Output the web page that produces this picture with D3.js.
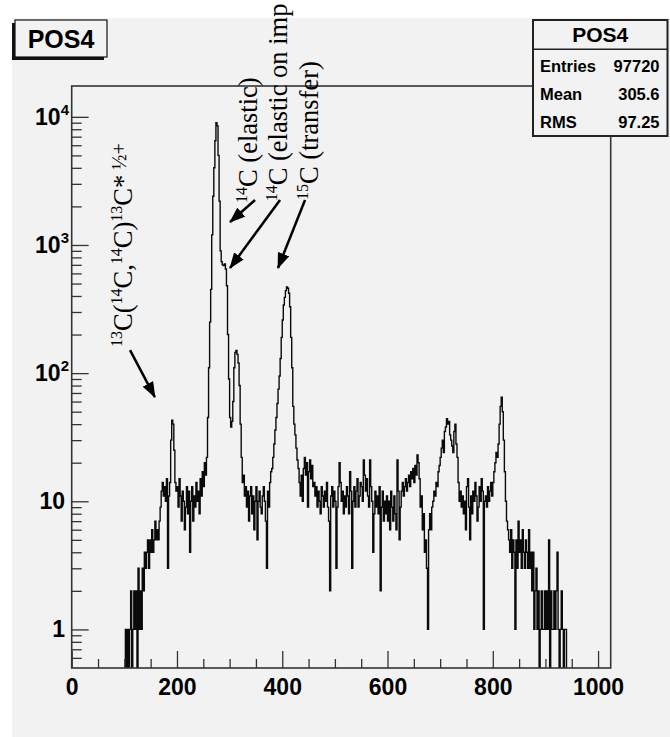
<!DOCTYPE html>
<html>
<head>
<meta charset="utf-8">
<script src="https://cdn.jsdelivr.net/npm/d3@7"></script>
<style>
  body { margin: 0; background: #ffffff; }
  svg { display: block; }
</style>
</head>
<body>
<div id="chartPos4"></div>
<script>
// ----------------------------------------------------------------------------------------------------
// DATA - POS4 histogram (bins of width 2, starting at channel 100, all other bins empty)
// ----------------------------------------------------------------------------------------------------
var histName = "POS4";
var binLow = 100;
var binWidth = 2;
var counts = [
    0, 1, 0, 1, 0, 1, 2, 0, 1, 2,                       // 100
    1, 2, 0, 3, 1, 2, 1, 3, 2, 4,                       // 120
    3, 4, 5, 3, 5, 4, 6, 4, 5, 7,                       // 140
    5, 6, 5, 7, 9, 12, 14, 11, 13, 10,                  // 160
    15, 3, 11, 14, 30, 43, 40, 25, 14, 12,              // 180
    13, 9, 15, 11, 7, 12, 10, 6, 9, 13,                 // 200
    8, 12, 4, 10, 13, 7, 11, 9, 14, 10,                 // 220
    12, 8, 15, 11, 17, 13, 20, 16, 22, 45,              // 240
    110, 250, 450, 1200, 2400, 4000, 6500, 9000, 8500, 5000,   // 260
    2200, 900, 740, 700, 690, 710, 650, 480, 200, 90,   // 280
    45, 38, 42, 60, 110, 145, 150, 140, 120, 80,        // 300
    40, 22, 14, 16, 11, 13, 9, 12, 7, 11,               // 320
    13, 8, 11, 6, 10, 13, 5, 10, 12, 9,                 // 340
    8, 11, 13, 10, 7, 3, 12, 9, 14, 17,                 // 360
    18, 22, 28, 36, 45, 58, 75, 95, 130, 190,           // 380
    260, 340, 390, 440, 470, 460, 420, 330, 190, 110,   // 400
    55, 40, 33, 26, 21, 18, 14, 11, 16, 10,             // 420
    18, 22, 16, 20, 9, 17, 21, 15, 19, 13,              // 440
    14, 11, 13, 9, 12, 10, 8, 13, 11, 9,                // 460
    12, 10, 14, 9, 7, 2, 11, 13, 9, 12,                 // 480
    10, 3, 9, 13, 20, 14, 10, 12, 8, 11,                // 500
    9, 13, 11, 8, 17, 12, 3, 10, 13, 9,                 // 520
    12, 15, 9, 11, 14, 13, 10, 21, 16, 12,              // 540
    15, 11, 9, 21, 13, 10, 4, 8, 12, 9,                 // 560
    11, 8, 13, 2, 9, 12, 7, 10, 8, 11,                  // 580
    7, 10, 6, 12, 9, 7, 11, 8, 6, 21,                   // 600
    12, 5, 9, 12, 14, 11, 13, 15, 12, 14,               // 620
    16, 13, 17, 15, 18, 14, 19, 16, 23, 20,             // 640
    15, 9, 11, 6, 8, 4, 5, 3, 1, 6,                     // 660
    8, 6, 9, 10, 12, 11, 14, 13, 17, 19,                // 680
    22, 26, 30, 24, 35, 38, 44, 40, 42, 33,             // 700
    30, 27, 24, 35, 40, 28, 22, 14, 10, 12,             // 720
    9, 11, 8, 10, 6, 13, 15, 9, 5, 11,                  // 740
    8, 12, 10, 14, 11, 7, 9, 13, 10, 15,                // 760
    12, 1, 10, 11, 9, 13, 10, 12, 14, 11,               // 780
    14, 17, 20, 24, 22, 28, 40, 55, 65, 50,             // 800
    30, 17, 10, 7, 6, 5, 4, 6, 3, 5,                    // 820
    4, 1, 5, 3, 7, 4, 5, 3, 6, 4,                       // 840
    3, 5, 4, 3, 6, 3, 4, 2, 4, 1,                       // 860
    2, 3, 1, 2, 0, 1, 2, 1, 1, 2,                       // 880
    1, 2, 1, 5, 0, 2, 1, 1, 2, 1,                       // 900
    2, 4, 1, 0, 1, 2, 1, 0, 1, 1                        // 920
];

var xDomain = [0, 1024];
var yDomain = [0.5, 17400];
var xTicksMajor = [0, 200, 400, 600, 800, 1000];
var yTicksMajor = [1, 10, 100, 1000, 10000];
var yLabelBase = ["1", "10", "10", "10", "10"];
var yLabelExp = ["", "", "2", "3", "4"];

var statNames = ["Entries", "Mean", "RMS"];
var statValues = ["97720", "305.6", "97.25"];

// annotation text pieces: [text, kind]  kind 0 = normal, 1 = superscript, 2 = raised small
var annotationTexts = [
    [["13", 1], ["C(", 0], ["14", 1], ["C,", 0], ["14", 1], ["C)", 0], ["13", 1], ["C*\u2009", 0], ["\u00bd+", 2]],
    [["14", 1], ["C (elastic)", 0]],
    [["14", 1], ["C (elastic on imp", 0]],
    [["15", 1], ["C (transfer)", 0]]
];
// anchor of each annotation and its arrow, in data units (channel, counts)
var annotationAnchor = [[114.6, 160], [352, 2127], [409, 2190], [468, 2244]];
var arrowFrom = [[110.8, 151], [348.3, 2244], [395.8, 2244], [443.3, 2244]];
var arrowTo = [[158, 65], [300.8, 1511], [300.8, 661], [391.9, 661]];

// ----------------------------------------------------------------------------------------------------
// CONTROLS - CHART POS4
// ----------------------------------------------------------------------------------------------------
function chartPos4_Draw(ele) {
    ele = "#" + ele;
    d3.select(ele).select("svg").remove();

    // Dimensions
    var w = 670, h = 737;
    var left = 71.7, right = 610.7, top = 86, bottom = 668;
    var axisColor = "#333333";
    var labelFont = "'Liberation Sans', Arial, Helvetica, sans-serif";
    var serifFont = "'Liberation Serif', 'Times New Roman', serif";

    var svg = d3.select(ele)
        .append("svg")
        .attr("width", w)
        .attr("height", h);

    // Canvas
    svg.append("rect")
        .attr("x", 12).attr("y", 18)
        .attr("width", w - 12).attr("height", h - 18)
        .attr("fill", "#f2f2f2");

    // Scales
    var x = d3.scaleLinear().domain(xDomain).range([left, right]);
    var y = d3.scaleLog().domain(yDomain).range([bottom, top]);

    svg.append("clipPath").attr("id", "frameClip")
        .append("rect")
        .attr("x", left).attr("y", top)
        .attr("width", right - left).attr("height", bottom - top);

    // Histogram (step outline)
    var floor = yDomain[0] * 0.5;
    var pts = [[binLow, floor]];
    counts.forEach(function(c, i) { pts.push([binLow + i * binWidth, c]); });
    pts.push([binLow + counts.length * binWidth, counts[counts.length - 1]]);
    pts.push([binLow + counts.length * binWidth, floor]);

    var line = d3.line()
        .x(function(d) { return x(d[0]); })
        .y(function(d) { return y(Math.max(d[1], floor)); })
        .curve(d3.curveStepAfter);

    svg.append("path")
        .datum(pts)
        .attr("clip-path", "url(#frameClip)")
        .attr("d", line)
        .attr("fill", "none")
        .attr("stroke", "#0a0a0a")
        .attr("stroke-width", 1.4);

    // X axis
    var xMinor = x.ticks(20).filter(function(t) { return xTicksMajor.indexOf(t) < 0; });
    var gxMinor = svg.append("g")
        .attr("transform", "translate(0," + bottom + ")")
        .call(d3.axisBottom(x).tickValues(xMinor).tickSizeInner(-9).tickSizeOuter(0).tickFormat(""));
    var gx = svg.append("g")
        .attr("transform", "translate(0," + bottom + ")")
        .call(d3.axisBottom(x).tickValues(xTicksMajor).tickSizeInner(-17).tickSizeOuter(0).tickFormat(d3.format("d")));
    gx.selectAll("text")
        .attr("y", 27).attr("dy", null)
        .attr("font-family", labelFont).attr("font-weight", "bold")
        .attr("font-size", "23px").attr("fill", "#000");

    // Y axis
    var yMinor = y.ticks().filter(function(t) { return yTicksMajor.indexOf(t) < 0 && t > yDomain[0]; });
    var gyMinor = svg.append("g")
        .attr("transform", "translate(" + left + ",0)")
        .call(d3.axisLeft(y).tickValues(yMinor).tickSizeInner(-10).tickSizeOuter(0).tickFormat(""));
    var gy = svg.append("g")
        .attr("transform", "translate(" + left + ",0)")
        .call(d3.axisLeft(y).tickValues(yTicksMajor).tickSizeInner(-17).tickSizeOuter(0).tickFormat(""));

    [gxMinor, gx, gyMinor, gy].forEach(function(g) {
        g.select(".domain").remove();
        g.selectAll("line").attr("stroke", axisColor).attr("stroke-width", 1.3);
    });

    var yLabels = svg.selectAll(".ylabel")
        .data(yTicksMajor)
        .enter()
        .append("text")
        .attr("class", "ylabel")
        .attr("x", function(d, i) { return yLabelExp[i] ? 69 : 65; })
        .attr("y", function(d) { return y(d) + 8; })
        .attr("text-anchor", "end")
        .attr("font-family", labelFont)
        .attr("font-weight", "bold")
        .attr("font-size", "23px")
        .attr("fill", "#000");
    yLabels.append("tspan").text(function(d, i) { return yLabelBase[i]; });
    yLabels.append("tspan")
        .attr("font-size", "15px")
        .attr("dy", -10)
        .text(function(d, i) { return yLabelExp[i]; });

    // Frame
    svg.append("rect")
        .attr("x", left).attr("y", top)
        .attr("width", right - left).attr("height", bottom - top)
        .attr("fill", "none")
        .attr("stroke", axisColor)
        .attr("stroke-width", 1.6);

    // Title box
    svg.append("rect").attr("x", 12).attr("y", 23).attr("width", 92).attr("height", 37).attr("fill", "#111");
    svg.append("rect").attr("x", 15).attr("y", 20).attr("width", 92).attr("height", 37)
        .attr("fill", "#f2f2f2").attr("stroke", "#111").attr("stroke-width", 1.2);
    svg.append("text")
        .attr("x", 61).attr("y", 48)
        .attr("text-anchor", "middle")
        .attr("font-family", labelFont).attr("font-weight", "bold")
        .attr("font-size", "25px").attr("fill", "#000")
        .text(histName);

    // Stats box
    var sx = 533, sy = 20, sw = 134.5, sh = 116;
    svg.append("rect").attr("x", sx).attr("y", sy).attr("width", sw).attr("height", sh)
        .attr("fill", "#f2f2f2").attr("stroke", "#222").attr("stroke-width", 2);
    svg.append("line").attr("x1", sx).attr("x2", sx + sw).attr("y1", 49.3).attr("y2", 49.3)
        .attr("stroke", "#222").attr("stroke-width", 1.5);
    svg.append("text")
        .attr("x", sx + sw / 2).attr("y", 42)
        .attr("text-anchor", "middle")
        .attr("font-family", labelFont).attr("font-weight", "bold")
        .attr("font-size", "21px").attr("fill", "#000")
        .text(histName);
    svg.selectAll(".statname")
        .data(statNames)
        .enter()
        .append("text")
        .attr("class", "statname")
        .attr("x", sx + 7)
        .attr("y", function(d, i) { return 71.7 + i * 28; })
        .attr("font-family", labelFont).attr("font-weight", "bold")
        .attr("font-size", "16.5px").attr("fill", "#000")
        .text(function(d) { return d; });
    svg.selectAll(".statvalue")
        .data(statValues)
        .enter()
        .append("text")
        .attr("class", "statvalue")
        .attr("x", sx + sw - 8)
        .attr("y", function(d, i) { return 71.7 + i * 28; })
        .attr("text-anchor", "end")
        .attr("font-family", labelFont).attr("font-weight", "bold")
        .attr("font-size", "16.5px").attr("fill", "#000")
        .text(function(d) { return d; });

    // Annotations
    var defs = svg.append("defs");
    defs.append("marker")
        .attr("id", "arrowHead")
        .attr("markerUnits", "userSpaceOnUse")
        .attr("viewBox", "0 0 16 12")
        .attr("refX", 15).attr("refY", 6)
        .attr("markerWidth", 16).attr("markerHeight", 12)
        .attr("orient", "auto")
        .append("path")
        .attr("d", "M0,0 L16,6 L0,12 Z")
        .attr("fill", "#000");

    annotationTexts.forEach(function(parts, k) {
        var g = svg.append("g")
            .attr("transform", "translate(" + x(annotationAnchor[k][0]) + "," + y(annotationAnchor[k][1]) + ") rotate(-90)");
        var t = g.append("text")
            .attr("font-family", serifFont)
            .attr("font-size", "26.5px")
            .attr("fill", "#000");
        var shift = 0;
        parts.forEach(function(p) {
            var target = p[1] === 1 ? -10 : (p[1] === 2 ? -6 : 0);
            t.append("tspan")
                .attr("dy", target - shift)
                .attr("font-size", p[1] === 1 ? "16px" : (p[1] === 2 ? "20px" : "26.5px"))
                .text(p[0]);
            shift = target;
        });

        svg.append("line")
            .attr("x1", x(arrowFrom[k][0])).attr("y1", y(arrowFrom[k][1]))
            .attr("x2", x(arrowTo[k][0])).attr("y2", y(arrowTo[k][1]))
            .attr("stroke", "#000")
            .attr("stroke-width", 2.5)
            .attr("marker-end", "url(#arrowHead)");
    });
}

chartPos4_Draw("chartPos4");
</script>
</body>
</html>
